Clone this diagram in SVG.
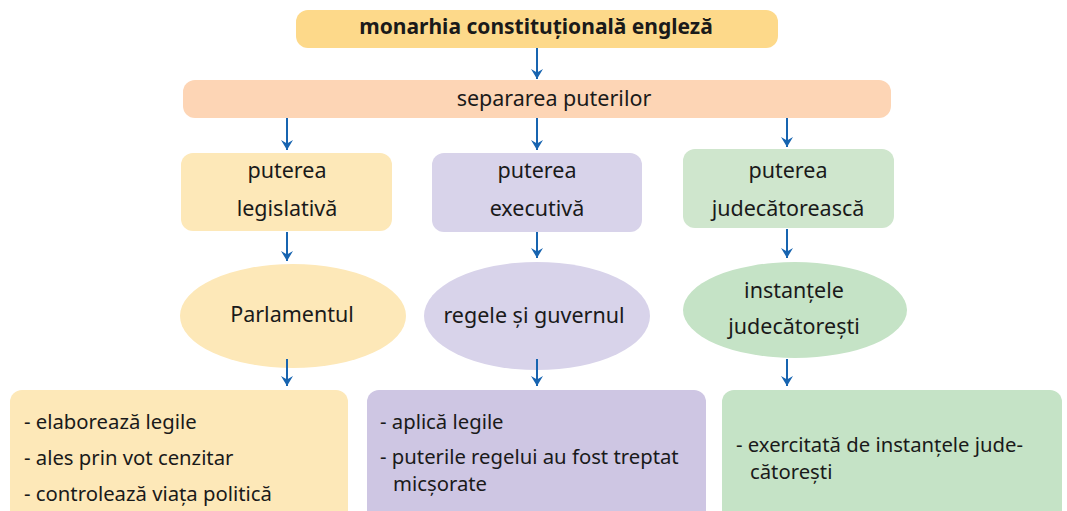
<svg xmlns="http://www.w3.org/2000/svg" width="1067" height="511" viewBox="0 0 1067 511">
<style>
text{font-family:"Noto Sans","Liberation Sans",sans-serif;fill:#1a1a1a;font-size:21.5px}
.c{text-anchor:middle}
.b{font-weight:bold;font-size:21px}
.s{font-size:20.3px}
.t{font-size:19.8px}
.con line{stroke:#1764b0;stroke-width:2;fill:none}
</style>
<defs>
<marker id="ah" markerWidth="14" markerHeight="14" refX="12" refY="7" orient="auto" markerUnits="userSpaceOnUse" viewBox="0 0 14 14">
<path d="M2,1 L12,7 L2,13 L5.5,7 Z" fill="#1764b0"/>
</marker>
</defs>
<rect width="1067" height="511" fill="#fff"/>
<g id="top"><rect x="296" y="10" width="482" height="38" rx="12" fill="#fdd98a"/><text class="c b" x="536" y="34">monarhia constituțională engleză</text></g>
<g id="sep"><rect x="183" y="80" width="708" height="38" rx="12" fill="#fdd5b5"/><text class="c" x="554" y="106">separarea puterilor</text></g>
<g id="leg"><rect x="181" y="153" width="211" height="78" rx="12" fill="#fde8b8"/><text class="c" x="287" y="178">puterea</text><text class="c" x="287" y="216">legislativă</text></g>
<g id="exe"><rect x="432" y="153" width="210" height="79" rx="12" fill="#d8d3ea"/><text class="c" x="537" y="178">puterea</text><text class="c" x="537" y="216">executivă</text></g>
<g id="jud"><rect x="683" y="149" width="211" height="79" rx="12" fill="#cfe6cd"/><text class="c" x="788" y="178">puterea</text><text class="c" x="788" y="216">judecătorească</text></g>
<g id="parl"><ellipse cx="293" cy="316" rx="113" ry="52" fill="#fde8b8"/><text class="c" x="292" y="322">Parlamentul</text></g>
<g id="rege"><ellipse cx="537" cy="316" rx="113" ry="54" fill="#d8d3ea"/><text class="c" x="534" y="323">regele și guvernul</text></g>
<g id="inst"><ellipse cx="795" cy="310" rx="112" ry="48" fill="#c5e3c6"/><text class="c" x="794" y="298">instanțele</text><text class="c" x="794" y="334">judecătorești</text></g>
<g id="d1"><rect x="10" y="390" width="338" height="135" rx="12" fill="#fde8b8"/>
<text class="s" x="24" y="429">- elaborează legile</text><text class="s" x="24" y="465">- ales prin vot cenzitar</text><text class="s" x="24" y="501">- controlează viața politică</text></g>
<g id="d2"><rect x="367" y="390" width="339" height="135" rx="12" fill="#cec6e3"/>
<text class="s" x="380" y="429">- aplică legile</text><text class="s" x="380" y="464">- puterile regelui au fost treptat</text><text class="s" x="393" y="491">micșorate</text></g>
<g id="d3"><rect x="722" y="390" width="340" height="135" rx="12" fill="#c5e3c6"/>
<text class="s" x="736" y="452">- exercitată de instanțele jude-</text><text class="s" x="750" y="479">cătorești</text></g>
<g class="con" id="connectors">
<line x1="537" y1="48" x2="537" y2="79" marker-end="url(#ah)"/>
<line x1="287" y1="118" x2="287" y2="150" marker-end="url(#ah)"/>
<line x1="537" y1="118" x2="537" y2="150" marker-end="url(#ah)"/>
<line x1="787" y1="118" x2="787" y2="147" marker-end="url(#ah)"/>
<line x1="287" y1="232" x2="287" y2="261" marker-end="url(#ah)"/>
<line x1="537" y1="232" x2="537" y2="258" marker-end="url(#ah)"/>
<line x1="787" y1="229" x2="787" y2="258" marker-end="url(#ah)"/>
<line x1="287" y1="359" x2="287" y2="386" marker-end="url(#ah)"/>
<line x1="537" y1="359" x2="537" y2="386" marker-end="url(#ah)"/>
<line x1="787" y1="359" x2="787" y2="386" marker-end="url(#ah)"/>
</g>
</svg>
